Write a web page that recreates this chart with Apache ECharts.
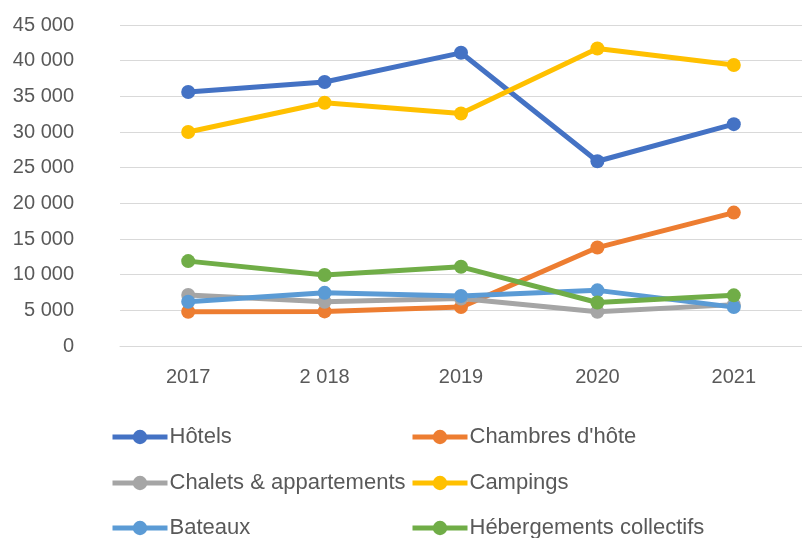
<!DOCTYPE html>
<html>
<head>
<meta charset="utf-8">
<script src="https://cdn.jsdelivr.net/npm/echarts@6/dist/echarts.min.js"></script>
<style>
  html, body { margin: 0; padding: 0; background: #ffffff; }
  #chart { width: 802px; height: 538px; }
</style>
</head>
<body>
<div id="chart"></div>
<script>
// Years on the category axis
const years = ['2017', '2 018', '2019', '2020', '2021'];

// Values per type of accommodation
const hotels = [35600, 37000, 41100, 25900, 31100];
const chambres = [4800, 4850, 5450, 13800, 18700];
const chalets = [7150, 6200, 6650, 4800, 5800];
const campings = [30000, 34100, 32600, 41700, 39400];
const bateaux = [6200, 7450, 7000, 7800, 5450];
const collectifs = [11900, 9950, 11100, 6100, 7100];

// Value axis ticks
const yTicks = [0, 5000, 10000, 15000, 20000, 25000, 30000, 35000, 40000, 45000];

const seriesNames = ['Hôtels', "Chambres d'hôte", 'Chalets & appartements', 'Campings', 'Bateaux', 'Hébergements collectifs'];
const seriesData = [hotels, chambres, chalets, campings, bateaux, collectifs];
const colors = ['#4472C4', '#ED7D31', '#A5A5A5', '#FFC000', '#5B9BD5', '#70AD47'];

const FONT = 'Liberation Sans';
const fmt = v => String(v).replace(/\B(?=(\d{3})+(?!\d))/g, ' ');

// Two-column legend, one component per entry (left, vertical centre)
const legendPos = [
  [110, 437], [410, 437],
  [110, 483], [410, 483],
  [110, 528], [410, 528]
];
const LEGEND_FS = 22;

const chart = echarts.init(document.getElementById('chart'), null, { renderer: 'canvas' });
chart.setOption({
  animation: false,
  textStyle: { fontFamily: FONT },
  grid: { left: 120, right: -8, top: 25, bottom: 192, containLabel: false },
  xAxis: {
    type: 'category',
    data: years,
    boundaryGap: true,
    axisLine: { show: true, lineStyle: { color: '#d9d9d9', width: 1 } },
    axisTick: { show: false },
    axisLabel: { color: '#595959', fontSize: 20, margin: 21, fontFamily: FONT }
  },
  yAxis: {
    type: 'value',
    min: yTicks[0],
    max: yTicks[yTicks.length - 1],
    interval: yTicks[1] - yTicks[0],
    axisLine: { show: false },
    axisTick: { show: false },
    splitLine: { lineStyle: { color: '#d9d9d9', width: 1 } },
    axisLabel: { color: '#595959', fontSize: 20, margin: 46, fontFamily: FONT, formatter: fmt }
  },
  legend: seriesNames.map((n, i) => ({
    data: [n],
    left: legendPos[i][0],
    top: legendPos[i][1] - LEGEND_FS / 2,
    padding: 0,
    itemWidth: 55,
    itemHeight: 18,
    itemGap: 0,
    lineStyle: { width: 5 },
    textStyle: { color: '#595959', fontSize: LEGEND_FS, fontFamily: FONT, padding: [0, 0, 0, -3] }
  })),
  series: seriesNames.map((n, i) => ({
    name: n,
    type: 'line',
    data: seriesData[i],
    color: colors[i],
    symbol: 'circle',
    symbolSize: 14,
    lineStyle: { width: 5, color: colors[i] },
    itemStyle: { color: colors[i] }
  }))
});
</script>
</body>
</html>
